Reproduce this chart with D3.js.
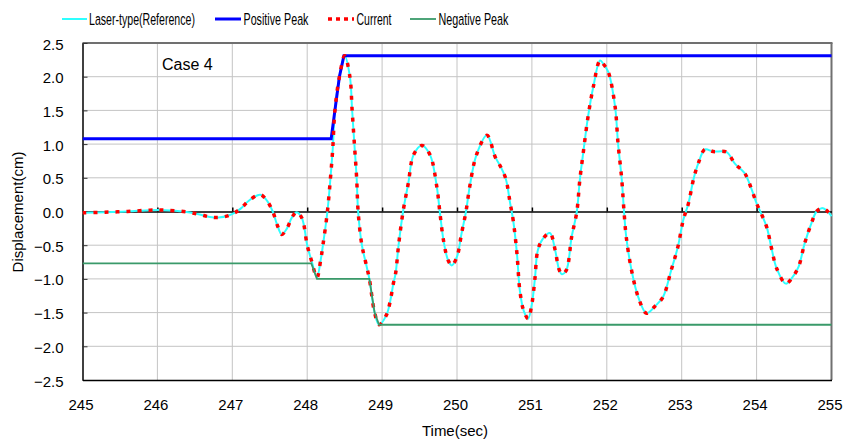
<!DOCTYPE html>
<html>
<head>
<meta charset="utf-8">
<script src="https://cdn.jsdelivr.net/npm/d3@7"></script>
<style>
  html, body { margin: 0; padding: 0; background: #fff; }
  svg { display: block; font-family: "Liberation Sans", Arial, sans-serif; }
</style>
</head>
<body>
<svg id="chart" width="843" height="439"></svg>
<script>
// ---------------- DATA ----------------
const timeSec = [245.00,245.30,245.60,245.90,246.10,246.35,246.55,246.70,246.82,246.95,247.03,247.12,247.22,247.37,247.45,247.54,247.60,247.66,247.73,247.80,247.86,247.93,248.00,248.06,248.13,248.18,248.21,248.27,248.31,248.34,248.37,248.43,248.50,248.57,248.60,248.63,248.66,248.68,248.73,248.78,248.83,248.90,248.96,249.06,249.11,249.15,249.18,249.22,249.28,249.35,249.42,249.53,249.64,249.73,249.77,249.82,249.88,249.93,250.00,250.06,250.12,250.17,250.26,250.40,250.51,250.57,250.65,250.71,250.75,250.80,250.84,250.89,250.95,251.00,251.04,251.08,251.15,251.24,251.31,251.36,251.40,251.46,251.53,251.60,251.64,251.69,251.75,251.82,251.91,251.96,252.02,252.11,252.15,252.20,252.23,252.26,252.33,252.42,252.53,252.64,252.75,252.86,252.95,253.02,253.09,253.16,253.22,253.31,253.42,253.60,253.71,253.84,253.93,254.00,254.07,254.14,254.20,254.27,254.39,254.47,254.56,254.64,254.73,254.80,254.87,254.93,255.00];
const laserType = [-0.02,-0.01,0.00,0.02,0.02,0.00,-0.04,-0.08,-0.09,-0.06,-0.02,0.05,0.16,0.25,0.18,0.00,-0.20,-0.34,-0.25,-0.08,-0.01,-0.10,-0.50,-0.74,-0.98,-0.72,-0.50,0.00,0.49,0.91,1.50,2.00,2.31,2.00,1.50,1.00,0.50,0.00,-0.50,-0.75,-1.00,-1.50,-1.68,-1.53,-1.32,-1.07,-0.92,-0.50,0.00,0.42,0.84,0.98,0.84,0.37,0.00,-0.43,-0.72,-0.80,-0.67,-0.33,0.00,0.37,0.84,1.13,0.81,0.69,0.49,0.12,-0.13,-0.62,-1.18,-1.47,-1.59,-1.37,-1.00,-0.57,-0.40,-0.32,-0.57,-0.85,-0.93,-0.87,-0.38,0.00,0.47,0.91,1.41,1.85,2.24,2.18,2.07,1.56,1.01,0.47,0.00,-0.38,-0.87,-1.27,-1.51,-1.41,-1.27,-0.87,-0.52,-0.13,0.12,0.49,0.71,0.92,0.89,0.88,0.71,0.57,0.34,0.12,-0.05,-0.25,-0.55,-0.85,-1.07,-0.99,-0.82,-0.48,-0.18,0.00,0.05,0.02,-0.07];
const current = [-0.02,-0.01,0.00,0.02,0.02,0.00,-0.04,-0.08,-0.09,-0.06,-0.02,0.05,0.16,0.25,0.18,0.00,-0.20,-0.34,-0.25,-0.08,-0.01,-0.10,-0.50,-0.74,-0.98,-0.72,-0.50,0.00,0.49,0.91,1.50,2.00,2.31,2.00,1.50,1.00,0.50,0.00,-0.50,-0.75,-1.00,-1.50,-1.68,-1.53,-1.32,-1.07,-0.92,-0.50,0.00,0.42,0.84,0.98,0.84,0.37,0.00,-0.43,-0.72,-0.80,-0.67,-0.33,0.00,0.37,0.84,1.13,0.81,0.69,0.49,0.12,-0.13,-0.62,-1.18,-1.47,-1.59,-1.37,-1.00,-0.57,-0.40,-0.32,-0.57,-0.85,-0.93,-0.87,-0.38,0.00,0.47,0.91,1.41,1.85,2.24,2.18,2.07,1.56,1.01,0.47,0.00,-0.38,-0.87,-1.27,-1.51,-1.41,-1.27,-0.87,-0.52,-0.13,0.12,0.49,0.71,0.92,0.89,0.88,0.71,0.57,0.34,0.12,-0.05,-0.25,-0.55,-0.85,-1.07,-0.99,-0.82,-0.48,-0.18,0.00,0.05,0.02,-0.07];

const posPeakTime = [245.00, 248.32, 248.37, 248.43, 248.49, 255.00];
const posPeakVal  = [1.08, 1.08, 1.50, 2.00, 2.31, 2.31];
const negPeakTime = [245.00, 248.055, 248.13, 248.83, 248.90, 248.96, 255.00];
const negPeakVal  = [-0.77, -0.77, -1.00, -1.00, -1.50, -1.68, -1.68];

const xTicks = [245,246,247,248,249,250,251,252,253,254,255];
const yTicks = [-2.5,-2.0,-1.5,-1.0,-0.5,0.0,0.5,1.0,1.5,2.0,2.5];
const seriesNames = ["Laser-type(Reference)", "Positive Peak", "Current", "Negative Peak"];
const caseLabel = "Case 4";
const xTitle = "Time(sec)";
const yTitle = "Displacement(cm)";

// ---------------- LAYOUT ----------------
const L = 82.5, R = 831.5, T = 43, B = 380;
const svg = d3.select("#chart");
const x = d3.scaleLinear().domain([245, 255]).range([L, R]);
const y = d3.scaleLinear().domain([-2.5, 2.5]).range([B, T]);

const gridColor = "#c4c4c4";
svg.append("g").selectAll("line").data(xTicks.slice(1, -1)).join("line")
  .attr("x1", d => x(d)).attr("x2", d => x(d)).attr("y1", T).attr("y2", B)
  .attr("stroke", gridColor).attr("stroke-width", 1);
svg.append("g").selectAll("line").data(yTicks.filter(d => d !== 0 && d !== 2.5 && d !== -2.5)).join("line")
  .attr("x1", L).attr("x2", R).attr("y1", d => y(d)).attr("y2", d => y(d))
  .attr("stroke", gridColor).attr("stroke-width", 1);

svg.append("line").attr("x1", L).attr("x2", R + 1).attr("y1", T).attr("y2", T)
  .attr("stroke", "#707070").attr("stroke-width", 2);
svg.append("line").attr("x1", R).attr("x2", R).attr("y1", T).attr("y2", B)
  .attr("stroke", "#707070").attr("stroke-width", 2);

const yAxis = d3.axisLeft(y).tickValues(yTicks).tickSizeInner(-5).tickSizeOuter(0).tickPadding(19)
  .tickFormat(d3.format(".1f"));
const gy = svg.append("g").attr("transform", `translate(${L},0)`).call(yAxis);
gy.select(".domain").attr("stroke", "#000").attr("stroke-width", 1.5);
gy.selectAll(".tick line").attr("stroke", "#333");
gy.selectAll(".tick text").attr("font-size", 15).attr("fill", "#000")
  .attr("font-family", "'Liberation Sans', Arial, sans-serif").attr("dy", "0.4em");

const xAxis = d3.axisBottom(x).tickValues(xTicks).tickSize(0).tickPadding(19).tickFormat(d3.format("d"));
const gx = svg.append("g").attr("transform", `translate(0,${B})`).call(xAxis);
gx.select(".domain").attr("stroke", "#000").attr("stroke-width", 1.5);
gx.selectAll(".tick text").attr("font-size", 15).attr("fill", "#000").attr("dx", -2)
  .attr("font-family", "'Liberation Sans', Arial, sans-serif");

const gz = svg.append("g").attr("transform", `translate(0,${y(0)})`)
  .call(d3.axisTop(x).tickValues(xTicks.slice(1, -1)).tickSizeInner(4).tickSizeOuter(0).tickFormat(""));
gz.select(".domain").attr("stroke", "#000").attr("stroke-width", 1.5);
gz.selectAll(".tick line").attr("stroke", "#000").attr("stroke-width", 1.5);

svg.append("clipPath").attr("id", "plotclip").append("rect")
  .attr("x", L).attr("y", T - 2).attr("width", R - L + 2).attr("height", B - T + 4);
const plot = svg.append("g").attr("clip-path", "url(#plotclip)");

const lineGen = (xs, ys, curve) => d3.line().x((d, i) => x(xs[i])).y((d, i) => y(ys[i])).curve(curve)(ys);

const cyan = "#2effff", blue = "#0000ff", red = "#ff0000", green = "#3a9a6a";

plot.append("path").attr("d", lineGen(timeSec, laserType, d3.curveCatmullRom.alpha(0.5)))
  .attr("fill", "none").attr("stroke", cyan).attr("stroke-width", 2);
plot.append("path").attr("d", lineGen(posPeakTime, posPeakVal, d3.curveLinear))
  .attr("fill", "none").attr("stroke", blue).attr("stroke-width", 3);
plot.append("path").attr("d", lineGen(timeSec, current, d3.curveCatmullRom.alpha(0.5)))
  .attr("fill", "none").attr("stroke", red).attr("stroke-width", 3.5).attr("stroke-dasharray", "4,7");
plot.append("path").attr("d", lineGen(negPeakTime, negPeakVal, d3.curveLinear))
  .attr("fill", "none").attr("stroke", green).attr("stroke-width", 1.8);

svg.append("text").attr("x", 162).attr("y", 70).attr("font-size", 16).attr("fill", "#000").text(caseLabel);

svg.append("text").attr("x", 455).attr("y", 436).attr("text-anchor", "middle")
  .attr("font-size", 15).attr("fill", "#000").text(xTitle);

// narrow text helper: compress horizontally to a target width with a transform
function narrowText(parent, str, size, targetW) {
  const g = parent.append("g");
  const t = g.append("text").attr("x", 0).attr("y", 0).attr("font-size", size).attr("fill", "#000").text(str);
  const w = t.node().getComputedTextLength();
  const s = Math.min(1, targetW / w);
  return { g, t, s };
}

const yt = narrowText(svg, yTitle, 15, 130);
yt.t.attr("text-anchor", "middle");
yt.g.attr("transform", `translate(23,212) rotate(-90) scale(${yt.s},1)`);

const legendItems = [
  { x1: 62, x2: 87, tx: 89, tw: 106, color: cyan, width: 2, dash: null },
  { x1: 215, x2: 241, tx: 243.5, tw: 65, color: blue, width: 3, dash: null },
  { x1: 328, x2: 354, tx: 356.5, tw: 35, color: red, width: 3.5, dash: "4,4" },
  { x1: 410, x2: 436, tx: 438.5, tw: 70, color: green, width: 1.8, dash: null }
];
const lg = svg.append("g");
legendItems.forEach((it, i) => {
  lg.append("line").attr("x1", it.x1).attr("x2", it.x2).attr("y1", 19).attr("y2", 19)
    .attr("stroke", it.color).attr("stroke-width", it.width).attr("stroke-dasharray", it.dash);
  const nt = narrowText(lg, seriesNames[i], 16.5, it.tw);
  nt.g.attr("transform", `translate(${it.tx},25) scale(${nt.s},1)`);
});
</script>
</body>
</html>
